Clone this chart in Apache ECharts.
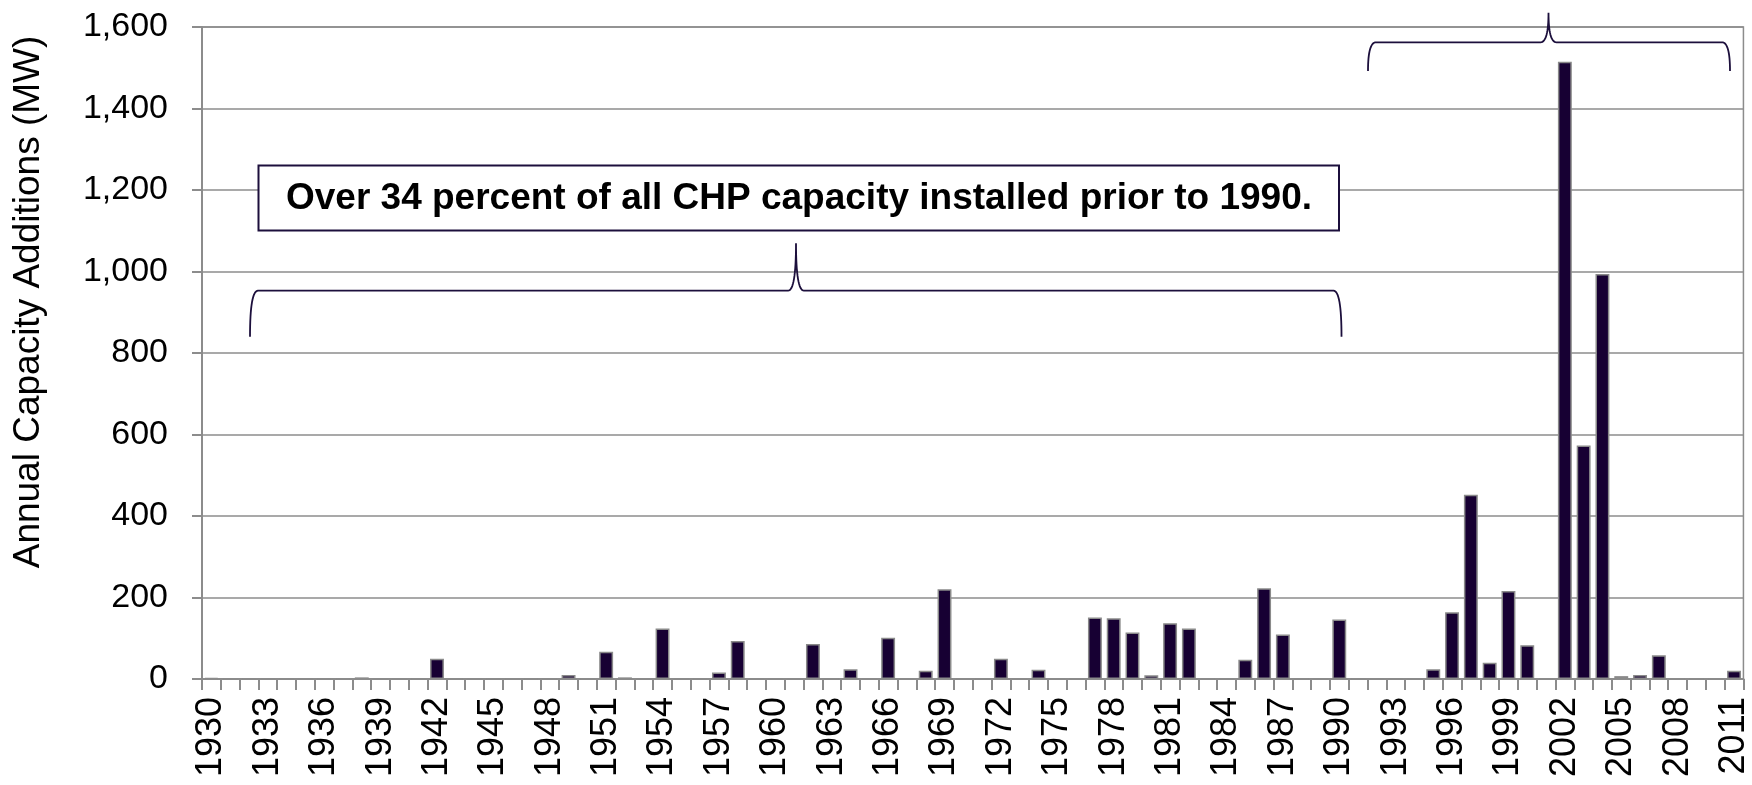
<!DOCTYPE html>
<html>
<head>
<meta charset="utf-8">
<script src="https://cdn.jsdelivr.net/npm/echarts@6/dist/echarts.min.js"></script>
<style>
html,body{margin:0;padding:0;background:#fff;}
#chart{width:1752px;height:785px;}
</style>
</head>
<body>
<div id="chart"></div>
<script>
// Years (categories)
const years = [
  '1930','1931','1932','1933','1934','1935','1936','1937','1938','1939',
  '1940','1941','1942','1943','1944','1945','1946','1947','1948','1949',
  '1950','1951','1952','1953','1954','1955','1956','1957','1958','1959',
  '1960','1961','1962','1963','1964','1965','1966','1967','1968','1969',
  '1970','1971','1972','1973','1974','1975','1976','1977','1978','1979',
  '1980','1981','1982','1983','1984','1985','1986','1987','1988','1989',
  '1990','1991','1992','1993','1994','1995','1996','1997','1998','1999',
  '2000','2001','2002','2003','2004','2005','2006','2007','2008','2009',
  '2010','2011'
];
// Annual capacity additions (MW)
const capacityMW = [
  3, 0, 0, 0, 0, 0, 0, 0, 4, 0,
  0, 0, 50, 0, 0, 0, 0, 0, 0, 10,
  0, 67, 4, 0, 124, 0, 0, 16, 93, 0,
  0, 0, 86, 0, 24, 0, 101, 0, 20, 220,
  0, 0, 50, 0, 23, 0, 0, 151, 149, 114,
  9, 137, 124, 0, 0, 47, 223, 109, 0, 0,
  146, 0, 0, 0, 0, 24, 164, 452, 40, 216,
  83, 0, 1515, 573, 994, 7, 10, 58, 0, 0,
  0, 20
];
const yTicks = [0, 200, 400, 600, 800, 1000, 1200, 1400, 1600];
const yTitle = 'Annual Capacity Additions (MW)';
const noteText = 'Over 34 percent of all CHP capacity installed prior to 1990.';

const FONT = '"Liberation Sans", Arial, sans-serif';
const NAVY = '#1c0f3c';
const GRID_GRAY = '#8c8c8c';

function fmt(v) { return v.toString().replace(/\B(?=(\d{3})+(?!\d))/g, ','); }

// quadratic curve sampled into points
function quad(p0, c, p1, n) {
  const pts = [];
  for (let i = 0; i <= n; i++) {
    const t = i / n, u = 1 - t;
    pts.push([u * u * p0[0] + 2 * u * t * c[0] + t * t * p1[0],
              u * u * p0[1] + 2 * u * t * c[1] + t * t * p1[1]]);
  }
  return pts;
}
function bracePoints(x0, x1, xm, yLine, yEnd, yTip) {
  const r = 8;
  let pts = [];
  pts = pts.concat(quad([x0, yEnd], [x0, yLine], [x0 + r, yLine], 16));
  pts = pts.concat(quad([xm - r, yLine], [xm, yLine], [xm, yTip], 16));
  pts = pts.concat(quad([xm, yTip], [xm, yLine], [xm + r, yLine], 16));
  pts = pts.concat(quad([x1 - r, yLine], [x1, yLine], [x1, yEnd], 16));
  return pts;
}

const chart = echarts.init(document.getElementById('chart'), null, {renderer: 'canvas'});

const option = {
  animation: false,
  backgroundColor: '#ffffff',
  grid: {
    left: 202, right: 3, top: 27, bottom: 106,
    containLabel: false,
    show: true, borderColor: GRID_GRAY, borderWidth: 1.5
  },
  xAxis: {
    type: 'category',
    data: years,
    boundaryGap: true,
    axisLine: { show: true, lineStyle: { color: GRID_GRAY, width: 2 } },
    axisTick: { show: true, interval: 0, alignWithLabel: false, length: 11, lineStyle: { color: GRID_GRAY, width: 2 } },
    axisLabel: {
      interval: 2, rotate: 90, margin: 18,
      fontFamily: FONT, fontSize: 36, color: '#000'
    },
    splitLine: { show: false }
  },
  yAxis: {
    type: 'value',
    min: yTicks[0], max: yTicks[yTicks.length - 1], interval: 200,
    axisLine: { show: true, lineStyle: { color: GRID_GRAY, width: 2 } },
    axisTick: { show: true, length: 10, lineStyle: { color: GRID_GRAY, width: 2 } },
    axisLabel: {
      margin: 34, fontFamily: FONT, fontSize: 34, color: '#000',
      formatter: function (v) { return fmt(v); }
    },
    splitLine: { show: true, lineStyle: { color: GRID_GRAY, width: 1.5 } }
  },
  series: [{
    type: 'bar',
    data: capacityMW,
    barCategoryGap: '26%',
    itemStyle: { color: '#170033', borderColor: '#8a8a8a', borderWidth: 1.5 }
  }],
  graphic: [
    {
      type: 'text', x: 29, y: 302, rotation: Math.PI / 2, z: 100,
      style: { text: yTitle, fontFamily: FONT, fontSize: 37, fill: '#000', align: 'center', verticalAlign: 'middle' }
    },
    {
      type: 'rect', z: 100,
      shape: { x: 258.5, y: 165.5, width: 1080.5, height: 65 },
      style: { fill: '#ffffff', stroke: NAVY, lineWidth: 2 }
    },
    {
      type: 'text', x: 799, y: 199, z: 101,
      style: { text: noteText, fontFamily: FONT, fontSize: 37, fontWeight: 'bold', fill: '#000', align: 'center', verticalAlign: 'middle' }
    },
    {
      type: 'polyline', z: 100,
      shape: { points: bracePoints(250, 1341.5, 796, 290.7, 336.7, 243.3) },
      style: { fill: null, stroke: NAVY, lineWidth: 1.8 }
    },
    {
      type: 'polyline', z: 100,
      shape: { points: bracePoints(1368, 1730, 1548.5, 42.3, 71, 12.7) },
      style: { fill: null, stroke: NAVY, lineWidth: 1.8 }
    }
  ]
};
chart.setOption(option);
</script>
</body>
</html>
